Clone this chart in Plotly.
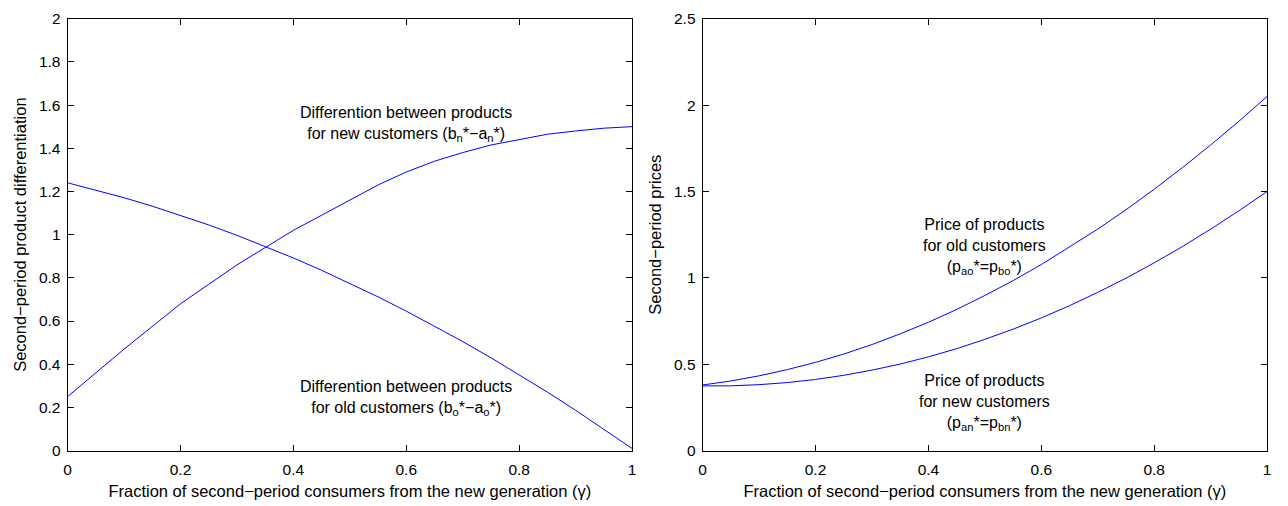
import plotly.graph_objects as go

gamma = [0.00, 0.05, 0.10, 0.15, 0.20, 0.25, 0.30, 0.35, 0.40, 0.45, 0.50,
         0.55, 0.60, 0.65, 0.70, 0.75, 0.80, 0.85, 0.90, 0.95, 1.00]

diff_new = [0.25, 0.36, 0.47, 0.575, 0.68, 0.77, 0.86, 0.94, 1.02, 1.09, 1.16,
            1.23, 1.29, 1.34, 1.38, 1.415, 1.44, 1.465, 1.48, 1.493, 1.50]
diff_old = [1.24, 1.207, 1.171, 1.132, 1.09, 1.045, 0.997, 0.946, 0.892, 0.835, 0.775,
            0.712, 0.646, 0.577, 0.505, 0.430, 0.352, 0.271, 0.187, 0.10, 0.01]

price_old = [0.380, 0.403, 0.433, 0.469, 0.511, 0.559, 0.614, 0.676, 0.743, 0.817, 0.898,
             0.984, 1.077, 1.177, 1.282, 1.394, 1.513, 1.638, 1.769, 1.906, 2.05]
price_new = [0.375, 0.375, 0.382, 0.394, 0.412, 0.436, 0.466, 0.501, 0.543, 0.590, 0.644,
             0.703, 0.768, 0.839, 0.916, 0.998, 1.087, 1.181, 1.282, 1.388, 1.50]

x_ticks = [0, 0.2, 0.4, 0.6, 0.8, 1]
x_tick_labels = ["0", "0.2", "0.4", "0.6", "0.8", "1"]
y1_ticks = [0, 0.2, 0.4, 0.6, 0.8, 1, 1.2, 1.4, 1.6, 1.8, 2]
y1_tick_labels = ["0", "0.2", "0.4", "0.6", "0.8", "1", "1.2", "1.4", "1.6", "1.8", "2"]
y2_ticks = [0, 0.5, 1, 1.5, 2, 2.5]
y2_tick_labels = ["0", "0.5", "1", "1.5", "2", "2.5"]

x_title = "Fraction of second\u2212period consumers from the new generation (\u03b3)"
y1_title = "Second\u2212period product differentiation"
y2_title = "Second\u2212period prices"

left_top_text = "Differention between products<br>for new customers (b<sub>n</sub>*\u2212a<sub>n</sub>*)"
left_bot_text = "Differention between products<br>for old customers (b<sub>o</sub>*\u2212a<sub>o</sub>*)"
right_top_text = "Price of products<br>for old customers<br>(p<sub>ao</sub>*=p<sub>bo</sub>*)"
right_bot_text = "Price of products<br>for new customers<br>(p<sub>an</sub>*=p<sub>bn</sub>*)"

FONT = "Liberation Sans, Arial, Helvetica, sans-serif"
BLUE = "#0000ff"
W, H = 1288, 506
TICK_SIZE = 15.5
TITLE_SIZE = 16.5
ANN_SIZE = 16

fig = go.Figure()
line = dict(color=BLUE, width=1)
fig.add_trace(go.Scatter(x=gamma, y=diff_new, mode="lines", line=line, xaxis="x", yaxis="y", showlegend=False))
fig.add_trace(go.Scatter(x=gamma, y=diff_old, mode="lines", line=line, xaxis="x", yaxis="y", showlegend=False))
fig.add_trace(go.Scatter(x=gamma, y=price_old, mode="lines", line=line, xaxis="x2", yaxis="y2", showlegend=False))
fig.add_trace(go.Scatter(x=gamma, y=price_new, mode="lines", line=line, xaxis="x2", yaxis="y2", showlegend=False))

def ax(**kw):
    d = dict(showgrid=False, zeroline=False, showline=True, linecolor="black", linewidth=1,
             mirror="ticks", ticks="inside", ticklen=6, tickcolor="black", tickwidth=1,
             tickfont=dict(family=FONT, size=TICK_SIZE, color="black"))
    d.update(kw)
    return d

ydom = [(H - 457) / H, (H - 10) / H]
fig.update_layout(
    width=W, height=H,
    margin=dict(l=0, r=0, t=0, b=0),
    paper_bgcolor="white", plot_bgcolor="white",
    font=dict(family=FONT, size=TITLE_SIZE, color="black"),
    xaxis=ax(domain=[64 / W, 632 / W], range=[0, 1], tickvals=x_ticks, ticktext=x_tick_labels,
             anchor="y", ticklabelstandoff=5,
             title=dict(text=x_title, font=dict(size=TITLE_SIZE), standoff=8)),
    yaxis=ax(domain=ydom, range=[0, 2], tickvals=y1_ticks, ticktext=y1_tick_labels,
             anchor="x", ticklabelstandoff=3,
             title=dict(text=y1_title, font=dict(size=TITLE_SIZE), standoff=8)),
    xaxis2=ax(domain=[703 / W, 1271 / W], range=[0, 1], tickvals=x_ticks, ticktext=x_tick_labels,
              anchor="y2", ticklabelstandoff=5,
              title=dict(text=x_title, font=dict(size=TITLE_SIZE), standoff=8)),
    yaxis2=ax(domain=ydom, range=[0, 2.5], tickvals=y2_ticks, ticktext=y2_tick_labels,
              anchor="x2", ticklabelstandoff=3,
              title=dict(text=y2_title, font=dict(size=TITLE_SIZE), standoff=8)),
)

ann_font = dict(family=FONT, size=ANN_SIZE, color="black")
annotations = [
    ("x", "y", 0.60, 1.512, left_top_text),
    ("x", "y", 0.60, 0.246, left_bot_text),
    ("x2", "y2", 0.50, 1.18, right_top_text),
    ("x2", "y2", 0.50, 0.28, right_bot_text),
]
for xr, yr, xc, yc, txt in annotations:
    fig.add_annotation(x=xc, y=yc, xref=xr, yref=yr, text=txt, showarrow=False,
                       xanchor="center", yanchor="middle", align="center", font=ann_font)

fig.write_html("out.html")
